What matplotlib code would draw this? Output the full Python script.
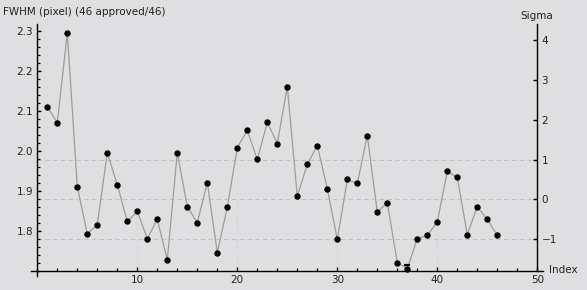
import matplotlib
matplotlib.use('Agg')
import matplotlib.pyplot as plt
from matplotlib.ticker import MultipleLocator, FixedLocator

# FWHM per frame
index = list(range(1, 47))
fwhm = [2.110, 2.070, 2.295, 1.910, 1.792, 1.815, 1.995, 1.915, 1.823, 1.848,
        1.780, 1.828, 1.727, 1.995, 1.860, 1.820, 1.920, 1.745, 1.858, 2.008,
        2.051, 1.978, 2.071, 2.018, 2.160, 1.886, 1.966, 2.013, 1.905, 1.778,
        1.928, 1.918, 2.038, 1.846, 1.870, 1.720, 1.705, 1.780, 1.788, 1.822,
        1.948, 1.933, 1.790, 1.860, 1.828, 1.788]

# small bar drawn above frame 37
flag_index = [37]
flag_level = [1.714]

# sigma scale of the right axis
center = 1.878
spread = 0.0995
sigma_lines = [-1, 0, 1]
sigma_ticks = [-1, 0, 1, 2, 3, 4]
drop_index = [10, 20, 30, 40]

left_ticks = [1.8, 1.9, 2.0, 2.1, 2.2, 2.3]
left_labels = ['1.8', '1.9', '2.0', '2.1', '2.2', '2.3']
bottom_ticks = [10, 20, 30, 40, 50]

bg = '#dfdfe1'
fs = 7.5

fig = plt.figure(figsize=(5.87, 2.90), dpi=100, facecolor=bg)
ax = fig.add_axes([31.3 / 587, 14 / 290, 512 / 587, 252 / 290])
ax.set_facecolor(bg)

ybot, ytop = 1.6865, 2.317
ax.set_xlim(-0.6, 50.6)
ax.set_ylim(ybot, ytop)

# dashed sigma lines
for s in sigma_lines:
    ax.plot([0, 50], [center + s * spread] * 2, color='#c2c2c4', lw=0.8,
            dashes=(4, 3), zorder=1)

# faint drop lines every 10 frames
for i in drop_index:
    ax.plot([i, i], [1.7, fwhm[i - 1]], color='#d2d2d4', lw=0.7,
            dashes=(3, 3), zorder=1)

ax.plot(index, fwhm, color='#9c9c9c', lw=0.9, marker='o', ms=3.6,
        mfc='k', mec='k', zorder=3)
ax.plot(flag_index, flag_level, ls='none', marker='_', ms=5, mew=1.6,
        color='k', zorder=3)

for side in ['top', 'right']:
    ax.spines[side].set_visible(False)
ax.spines['left'].set_position(('data', 0))
ax.spines['bottom'].set_position(('data', 1.7))
ax.spines['left'].set_linewidth(1.0)
ax.spines['bottom'].set_linewidth(1.0)

ax.yaxis.set_major_locator(FixedLocator(left_ticks))
ax.set_yticklabels(left_labels)
ax.yaxis.set_minor_locator(MultipleLocator(0.02))
ax.xaxis.set_major_locator(FixedLocator(bottom_ticks))
ax.xaxis.set_minor_locator(MultipleLocator(2))
ax.tick_params(which='both', direction='in', labelsize=fs, colors='k',
               labelcolor='#222222')
ax.tick_params(which='major', length=3, width=1.0, pad=3)
ax.tick_params(which='minor', length=2.2, width=0.9)

# sigma axis on the right
ax2 = ax.twinx()
ax2.set_ylim((ybot - center) / spread, (ytop - center) / spread)
for side in ['top', 'left', 'bottom']:
    ax2.spines[side].set_visible(False)
ax2.spines['right'].set_position(('data', 50))
ax2.spines['right'].set_bounds((1.7 - center) / spread, (ytop - center) / spread)
ax2.spines['right'].set_linewidth(1.0)
ax2.yaxis.set_major_locator(FixedLocator(sigma_ticks))
ax2.set_yticklabels(['\u22121', '0', '1', '2', '3', '4'])
ax2.tick_params(which='both', direction='in', labelsize=fs, length=3,
                width=1.0, pad=3, labelcolor='#222222')

fig.text(3 / 587, 1 - 12 / 290, 'FWHM (pixel) (46 approved/46)', fontsize=fs,
         va='center', ha='left', color='#222222')
fig.text(537 / 587, 1 - 16 / 290, 'Sigma', fontsize=fs, va='center',
         ha='center', color='#222222')
fig.text(549 / 587, 1 - 270 / 290, 'Index', fontsize=fs, va='center',
         ha='left', color='#222222')

fig.savefig('out.png', dpi=100, facecolor=bg)
